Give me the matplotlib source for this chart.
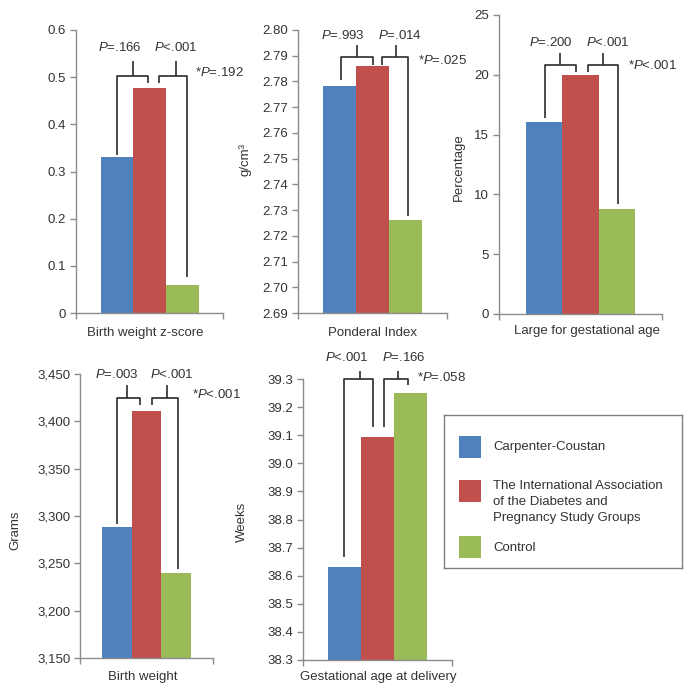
import matplotlib.pyplot as plt
from matplotlib.patches import Rectangle
from matplotlib.ticker import FuncFormatter

plt.rcParams['font.family'] = ['Liberation Sans', 'DejaVu Sans']
plt.rcParams['mathtext.fontset'] = 'custom'
plt.rcParams['mathtext.it'] = 'Liberation Sans:italic'
plt.rcParams['mathtext.rm'] = 'Liberation Sans'
plt.rcParams['font.size'] = 9.5

# data
groups = ['Carpenter-Coustan',
          'The International Association\nof the Diabetes and\nPregnancy Study Groups',
          'Control']
colors = ['#4f81bd', '#c0504d', '#9bbb59']

zscore = [0.33, 0.478, 0.06]
ponderal = [2.7783, 2.786, 2.726]
lga = [16.05, 19.95, 8.8]
bweight = [3288, 3411, 3240]
gest_age = [38.63, 39.095, 39.25]

p_zscore = ['=.166', '<.001', '=.192']
p_ponderal = ['=.993', '=.014', '=.025']
p_lga = ['=.200', '<.001', '<.001']
p_bweight = ['=.003', '<.001', '<.001']
p_gest = ['<.001', '=.166', '=.058']

W, H = 693, 695
TXT = '#333333'
AXC = '#8c8c8c'

fig = plt.figure(figsize=(W / 100, H / 100), dpi=100)


def px_rect(x0, y0, x1, y1):
    return [x0 / W, 1 - y1 / H, (x1 - x0) / W, (y1 - y0) / H]


def panel(rect, values, ylim, yticks, fmt, pvals, br):
    ax = fig.add_axes(px_rect(*rect))
    ax.bar([0, 1, 2], values, width=1.0, color=colors, linewidth=0)
    ax.set_xlim(-1.25, 3.25)
    ax.set_ylim(*ylim)
    ax.set_yticks(yticks)
    ax.yaxis.set_major_formatter(FuncFormatter(fmt))
    ax.set_xticks([-1.25, 3.25])
    ax.set_xticklabels(['', ''])
    for s in ['top', 'right']:
        ax.spines[s].set_visible(False)
    for s in ['left', 'bottom']:
        ax.spines[s].set_color(AXC)
        ax.spines[s].set_linewidth(1)
    ax.tick_params(direction='out', length=4, width=1, color=AXC,
                   labelcolor=TXT, labelsize=9.5, pad=3)

    # brackets
    kw = dict(color='#2b2b2b', lw=1.2, clip_on=False, solid_capstyle='butt')
    h, top = br['h'], br['top']
    l1, r1, s1, l2, r2, s2 = br['x']
    b1l, b1r, b2l, b2r = br['bottoms']
    ax.plot([l1, l1, r1, r1], [b1l, h, h, b1r], **kw)
    ax.plot([s1, s1], [h, top], **kw)
    ax.plot([l2, l2, r2, r2], [b2l, h, h, b2r], **kw)
    ax.plot([s2, s2], [h, top], **kw)

    t1x, t2x = br['tx']
    ax.text(t1x, br['ty'], r'$\mathit{P}$' + pvals[0], ha='center', va='center',
            color=TXT, clip_on=False)
    ax.text(t2x, br['ty'], r'$\mathit{P}$' + pvals[1], ha='center', va='center',
            color=TXT, clip_on=False)
    sx, sy = br['star']
    ax.text(sx, sy, '*' + r'$\mathit{P}$' + pvals[2], ha='left', va='center',
            color=TXT, clip_on=False)
    return ax


def f1(v, pos):
    return '0' if v == 0 else f'{v:.1f}'


panel((76, 30, 223, 313), zscore, (0, 0.6), [0, 0.1, 0.2, 0.3, 0.4, 0.5, 0.6], f1, p_zscore,
      dict(h=0.502, top=0.534, x=[0.02, 0.94, 0.5, 1.3, 2.15, 1.8],
           bottoms=[0.335, 0.487, 0.487, 0.076], tx=[0.1, 1.8], ty=0.562, star=(2.4, 0.509)))

panel((298, 30, 447, 313), ponderal, (2.69, 2.80),
      [2.69 + 0.01 * i for i in range(12)], lambda v, p: f'{v:.2f}', p_ponderal,
      dict(h=2.7895, top=2.794, x=[0.04, 1.03, 0.52, 1.3, 2.08, 1.72],
           bottoms=[2.7806, 2.7865, 2.7865, 2.7277], tx=[0.1, 1.84], ty=2.7977,
           star=(2.38, 2.788)))

panel((499, 15, 662, 314), lga, (0, 25), [0, 5, 10, 15, 20, 25],
      lambda v, p: f'{v:.0f}', p_lga,
      dict(h=20.8, top=21.8, x=[0.03, 0.88, 0.44, 1.21, 2.04, 1.63],
           bottoms=[16.4, 20.2, 20.2, 9.2], tx=[0.17, 1.76], ty=22.7, star=(2.31, 20.8)))

panel((80, 374, 213, 658), bweight, (3150, 3450), [3150, 3200, 3250, 3300, 3350, 3400, 3450],
      lambda v, p: f'{v:,.0f}', p_bweight,
      dict(h=3424.6, top=3438, x=[0.0, 0.77, 0.33, 1.2, 2.07, 1.7],
           bottoms=[3292, 3417, 3417, 3244], tx=[0.0, 1.87], ty=3449, star=(2.53, 3428)))

panel((303, 379, 452, 660), gest_age, (38.3, 39.3),
      [38.3 + 0.1 * i for i in range(11)], lambda v, p: f'{v:.1f}', p_gest,
      dict(h=39.30, top=39.33, x=[0.0, 0.87, 0.48, 1.2, 1.92, 1.62],
           bottoms=[38.667, 39.13, 39.13, 39.28], tx=[0.09, 1.8], ty=39.375,
           star=(2.2, 39.305)))

# axis titles placed in pixel coordinates
xlabels = [('Birth weight z-score', 145, 333), ('Ponderal Index', 373, 333),
           ('Large for gestational age', 587, 331), ('Birth weight', 143, 677),
           ('Gestational age at delivery', 378, 677)]
for txt, x, y in xlabels:
    fig.text(x / W, 1 - y / H, txt, ha='center', va='center', color=TXT, fontsize=9.5)

ylabels = [('g/cm³', 245, 160), ('Percentage', 459, 167), ('Grams', 15, 530), ('Weeks', 242, 522)]
for txt, x, y in ylabels:
    fig.text(x / W, 1 - y / H, txt, ha='center', va='center', rotation=90,
             color=TXT, fontsize=9.5)

# legend box
lax = fig.add_axes(px_rect(444, 415, 682, 568))
lax.set_xlim(0, 238)
lax.set_ylim(153, 0)
lax.set_xticks([])
lax.set_yticks([])
for s in lax.spines.values():
    s.set_color('#7f7f7f')
    s.set_linewidth(1)
sq_top = [21, 65, 121]
txt_y = [32, 87, 133]
for g, c, st, ty in zip(groups, colors, sq_top, txt_y):
    lax.add_patch(Rectangle((15, st), 22, 22, color=c, linewidth=0))
    lax.text(49, ty, g, ha='left', va='center', color=TXT, fontsize=9.5, linespacing=1.45)

fig.savefig('out.png', dpi=100)
